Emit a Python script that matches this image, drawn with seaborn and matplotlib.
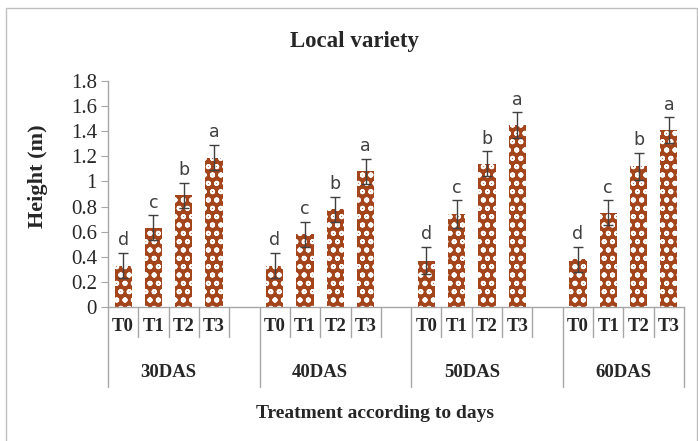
import matplotlib
matplotlib.use("Agg")
import matplotlib.pyplot as plt
import seaborn as sns
import pandas as pd
import numpy as np
from matplotlib.patches import Rectangle
import matplotlib.transforms as mtransforms

sns.set_style("white")
plt.rcParams['hatch.linewidth'] = 1.3

groups = ["30DAS", "40DAS", "50DAS", "60DAS"]
treatments = ["T0", "T1", "T2", "T3"]
heights = {
    "30DAS": [0.33, 0.63, 0.89, 1.19],
    "40DAS": [0.33, 0.58, 0.78, 1.08],
    "50DAS": [0.37, 0.74, 1.14, 1.45],
    "60DAS": [0.38, 0.75, 1.12, 1.41],
}
errors = {
    "30DAS": [0.10, 0.10, 0.10, 0.10],
    "40DAS": [0.10, 0.10, 0.10, 0.10],
    "50DAS": [0.11, 0.11, 0.10, 0.10],
    "60DAS": [0.10, 0.10, 0.11, 0.10],
}
letters = ["d", "c", "b", "a"]

rows = []
for g in groups:
    for t, h, e, l in zip(treatments, heights[g], errors[g], letters):
        rows.append({"key": f"{g}-{t}", "group": g, "treat": t, "height": h, "err": e, "letter": l})
df = pd.DataFrame(rows)

order = []
for i, g in enumerate(groups):
    order += [f"{g}-{t}" for t in treatments]
    if i < len(groups) - 1:
        order.append(f"blank{i}")

fig = plt.figure(figsize=(6.98, 4.41), dpi=100)
ax = fig.add_axes([108/698, 1-307/441, (684-108)/698, (307-81)/441])

brown = "#A3441B"
sns.barplot(data=df, x="key", y="height", order=order, color=brown, width=0.57,
            errorbar=None, ax=ax, saturation=1)
for p in ax.patches:
    p.set_facecolor(brown)
    p.set_edgecolor("white")
    p.set_hatch("oo")
    p.set_linewidth(0)

pos = {k: i for i, k in enumerate(order)}
xs = df["key"].map(pos).values
ax.errorbar(xs, df["height"], yerr=df["err"], fmt="none", ecolor="#404040",
            elinewidth=1.0, capsize=3.5, capthick=1.0)
for x, h, e, l in zip(xs, df["height"], df["err"], df["letter"]):
    ax.text(x, h + e + 0.03, l, ha="center", va="bottom", fontsize=12.5,
            color="#404040", family="DejaVu Sans")

ax.set_xlim(-0.5, len(order) - 0.5)
ax.set_ylim(0, 1.8)
ax.set_yticks(np.arange(0, 1.81, 0.2))
ax.set_yticklabels([f"{v:g}" for v in np.round(np.arange(0, 1.81, 0.2), 1)],
                   family="Liberation Serif", fontsize=15)
ticks = [pos[k] for k in df["key"]]
ax.set_xticks(ticks)
ax.set_xticklabels(df["treat"], family="Liberation Serif", fontsize=13.5, fontweight="bold")
ax.tick_params(axis="x", length=0, pad=8)
ax.tick_params(axis="y", length=5, color="#A6A6A6", direction="out", left=True, pad=3)
for s in ["top", "right"]:
    ax.spines[s].set_visible(False)
for s in ["left", "bottom"]:
    ax.spines[s].set_color("#A6A6A6")
    ax.spines[s].set_linewidth(1)
ax.set_xlabel("")
ax.set_ylabel("Height (m)", family="Liberation Serif", fontsize=16, fontweight="bold")
ax.yaxis.set_label_coords((48 - 108) / 576, (307 - 176) / 226)

trans = mtransforms.blended_transform_factory(ax.transData, ax.transAxes)
short = -30/226
long_ = -80/226
start = 0
for i, g in enumerate(groups):
    n = 5 if i < len(groups) - 1 else 4
    end = start + n
    for b in range(start, end):
        yb = long_ if b == start else short
        ax.plot([b - 0.5, b - 0.5], [0, yb], transform=trans, color="#A6A6A6", lw=1, clip_on=False)
    ax.text((start + start + 3) / 2, -65/226, g, transform=trans, ha="center", va="center",
            family="Liberation Serif", fontsize=13.5, fontweight="bold")
    start = end
ax.plot([start - 0.5, start - 0.5], [0, long_], transform=trans, color="#A6A6A6", lw=1, clip_on=False)

fig.text(0.5 * (258 + 493) / 698, 1 - 414/441, "Treatment according to days", ha="center", va="center",
         family="Liberation Serif", fontsize=14, fontweight="bold")
fig.text(355/698, 1 - 42/441, "Local variety", ha="center", va="center",
         family="Liberation Serif", fontsize=16.5, fontweight="bold")

fig.patches.append(Rectangle((6/698, -0.01), 691/698, 1 - 8/441 + 0.01, transform=fig.transFigure,
                             fill=False, edgecolor="#BFBFBF", lw=1))

fig.savefig("out.png", dpi=100)
